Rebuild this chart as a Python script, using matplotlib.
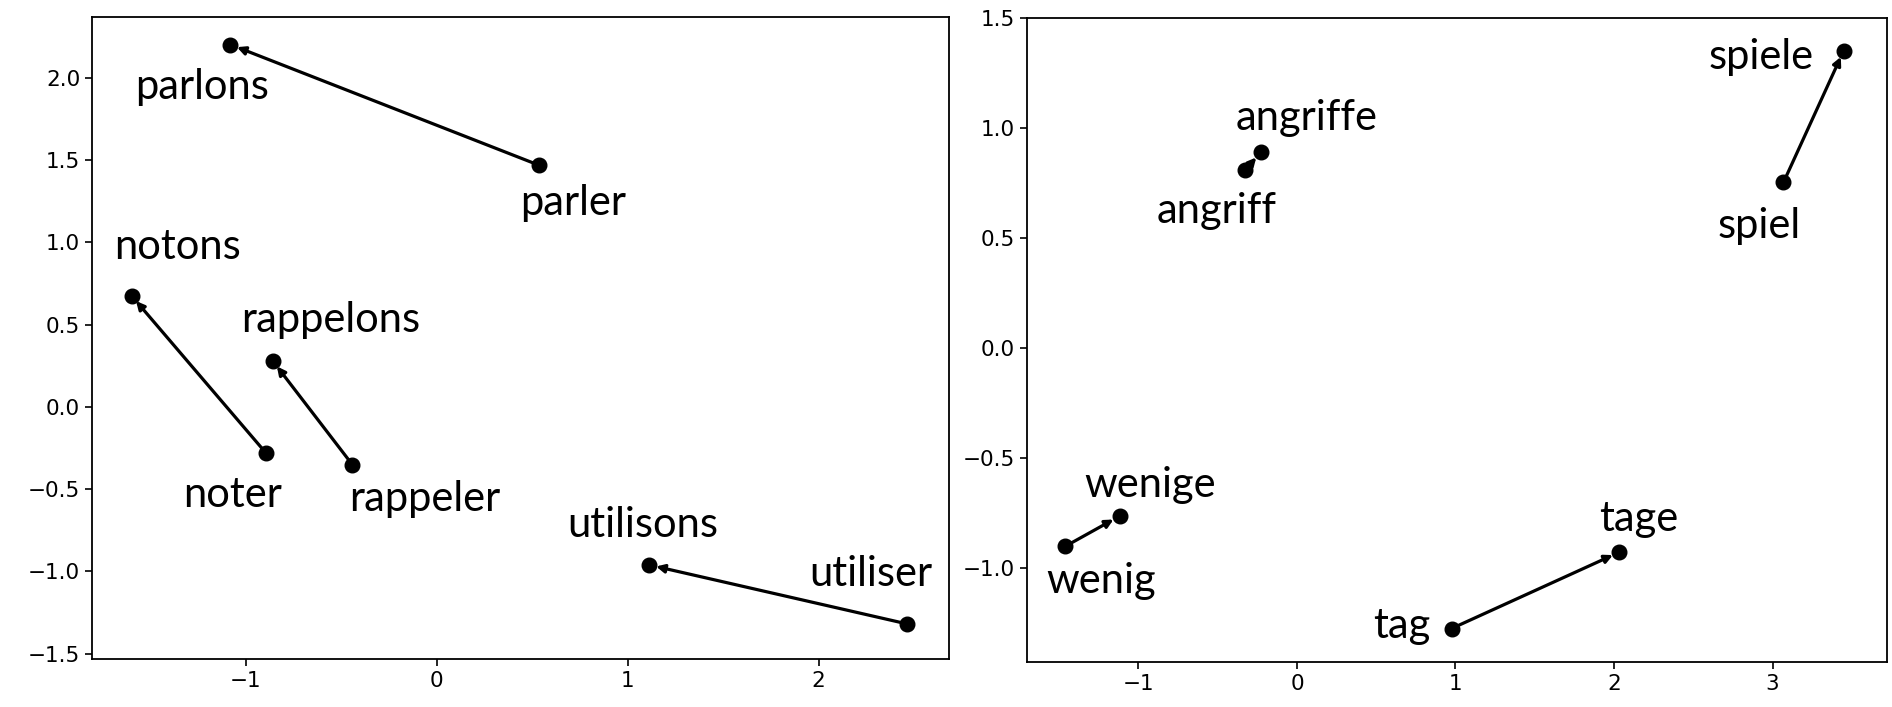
import matplotlib
matplotlib.use("Agg")
import matplotlib.pyplot as plt

# French verb pairs: infinitive -> first person plural
fr_words_base = ["parler", "noter", "rappeler", "utiliser"]
fr_words_plural = ["parlons", "notons", "rappelons", "utilisons"]
fr_base_x = [0.537, -0.896, -0.442, 2.464]
fr_base_y = [1.469, -0.278, -0.351, -1.320]
fr_plural_x = [-1.080, -1.598, -0.859, 1.113]
fr_plural_y = [2.203, 0.676, 0.280, -0.961]
fr_base_label_x = [0.714, -1.067, -0.063, 2.275]
fr_base_label_y = [1.241, -0.535, -0.557, -1.019]
fr_plural_label_x = [-1.231, -1.358, -0.556, 1.081]
fr_plural_label_y = [1.946, 0.970, 0.530, -0.718]

# German noun pairs: singular -> plural
de_words_base = ["angriff", "spiel", "wenig", "tag"]
de_words_plural = ["angriffe", "spiele", "wenige", "tage"]
de_base_x = [-0.327, 3.069, -1.461, 0.975]
de_base_y = [0.808, 0.753, -0.901, -1.275]
de_plural_x = [-0.228, 3.449, -1.119, 2.033]
de_plural_y = [0.890, 1.352, -0.764, -0.928]
de_base_label_x = [-0.509, 2.916, -1.233, 0.662]
de_base_label_y = [0.621, 0.555, -1.061, -1.264]
de_plural_label_x = [0.061, 2.931, -0.928, 2.155]
de_plural_label_y = [1.044, 1.324, -0.621, -0.775]

fig = plt.figure(figsize=(18.92, 7.07), dpi=100)
ax_fr = fig.add_axes([92 / 1892, 1 - 659 / 707, (949 - 92) / 1892, (659 - 17) / 707])
ax_de = fig.add_axes([1027 / 1892, 1 - 662 / 707, (1887 - 1027) / 1892, (662 - 18) / 707])

LABEL_FONT = dict(family=["Lato", "DejaVu Sans"], fontsize=30, color="black")


def draw_pairs(ax, bx, by, px, py, bw, pw, blx, bly, plx, ply):
    for i in range(len(bx)):
        ax.plot([bx[i], px[i]], [by[i], py[i]], "o", color="black",
                markersize=10.5, zorder=3)
        ax.annotate("", xy=(px[i], py[i]), xytext=(bx[i], by[i]),
                    arrowprops=dict(arrowstyle="-|>", color="black", lw=2.3,
                                    mutation_scale=12, shrinkA=0, shrinkB=5),
                    zorder=2)
        ax.text(blx[i], bly[i], bw[i], ha="center", va="center", **LABEL_FONT)
        ax.text(plx[i], ply[i], pw[i], ha="center", va="center", **LABEL_FONT)


draw_pairs(ax_fr, fr_base_x, fr_base_y, fr_plural_x, fr_plural_y,
           fr_words_base, fr_words_plural,
           fr_base_label_x, fr_base_label_y, fr_plural_label_x, fr_plural_label_y)
draw_pairs(ax_de, de_base_x, de_base_y, de_plural_x, de_plural_y,
           de_words_base, de_words_plural,
           de_base_label_x, de_base_label_y, de_plural_label_x, de_plural_label_y)

ax_fr.set_xlim(-1.805, 2.682)
ax_fr.set_ylim(-1.533, 2.371)
ax_fr.set_xticks([-1, 0, 1, 2])
ax_fr.set_yticks([-1.5, -1.0, -0.5, 0.0, 0.5, 1.0, 1.5, 2.0])

ax_de.set_xlim(-1.703, 3.722)
ax_de.set_ylim(-1.427, 1.5)
ax_de.set_xticks([-1, 0, 1, 2, 3])
ax_de.set_yticks([-1.0, -0.5, 0.0, 0.5, 1.0, 1.5])

for ax in (ax_fr, ax_de):
    ax.tick_params(labelsize=15.5, length=5, width=1.2)
    for s in ax.spines.values():
        s.set_linewidth(1.3)

fig.savefig("out.png", dpi=100)
